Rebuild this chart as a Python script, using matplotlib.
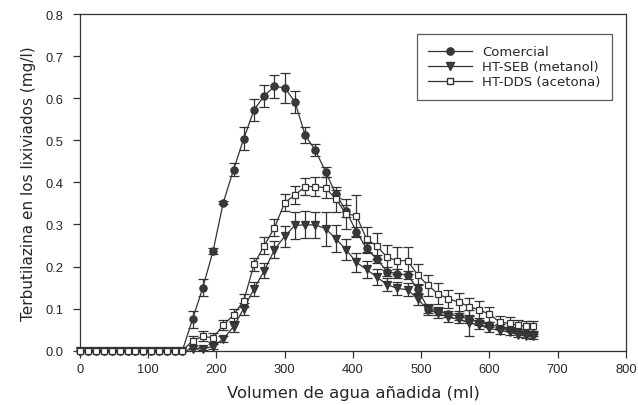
import matplotlib
matplotlib.use("Agg")
import matplotlib.pyplot as plt
from matplotlib.lines import Line2D

# ---------------- data ----------------
volumen = [0, 12, 24, 35, 47, 58, 70, 81, 93, 104, 116, 127, 139, 150,
           165, 180, 195, 210, 225, 240, 255, 270, 285, 300, 315, 330, 345,
           360, 375, 390, 405, 420, 435, 450, 465, 480, 495, 510, 525, 540,
           555, 570, 585, 600, 615, 630, 642, 653, 664]

comercial = [0]*14 + [0.075, 0.150, 0.237, 0.352, 0.430, 0.504, 0.572, 0.606,
                      0.628, 0.625, 0.591, 0.512, 0.476, 0.425, 0.372, 0.332,
                      0.283, 0.243, 0.218, 0.188, 0.183, 0.180, 0.147, 0.100,
                      0.094, 0.087, 0.082, 0.075, 0.068, 0.062, 0.057, 0.052,
                      0.046, 0.042, 0.040]
comercial_err = [0]*14 + [0.020, 0.020, 0.008, 0.004, 0.016, 0.028, 0.025, 0.026,
                          0.028, 0.036, 0.026, 0.019, 0.014, 0.012, 0.010, 0.015,
                          0.012, 0.012, 0.010, 0.010, 0.010, 0.010, 0.012, 0.010,
                          0.010, 0.008, 0.008, 0.008, 0.006, 0.006, 0.006, 0.005,
                          0.005, 0.005, 0.005]

ht_seb = [0]*14 + [0.003, 0.005, 0.010, 0.028, 0.057, 0.100, 0.147, 0.190,
                   0.240, 0.272, 0.298, 0.299, 0.299, 0.290, 0.266, 0.240,
                   0.210, 0.193, 0.175, 0.157, 0.148, 0.145, 0.123, 0.097,
                   0.089, 0.079, 0.075, 0.066, 0.061, 0.053, 0.048, 0.044,
                   0.038, 0.036, 0.034]
ht_seb_err = [0]*14 + [0.003, 0.004, 0.006, 0.008, 0.012, 0.014, 0.016, 0.018,
                       0.020, 0.025, 0.032, 0.032, 0.030, 0.040, 0.032, 0.025,
                       0.022, 0.020, 0.018, 0.016, 0.015, 0.015, 0.014, 0.012,
                       0.012, 0.010, 0.010, 0.030, 0.010, 0.008, 0.008, 0.007,
                       0.006, 0.006, 0.006]

ht_dds = [0]*14 + [0.024, 0.034, 0.031, 0.061, 0.085, 0.119, 0.205, 0.250,
                   0.292, 0.352, 0.370, 0.390, 0.390, 0.387, 0.360, 0.325,
                   0.321, 0.265, 0.249, 0.222, 0.214, 0.214, 0.180, 0.155,
                   0.135, 0.123, 0.116, 0.105, 0.097, 0.087, 0.068, 0.065,
                   0.060, 0.058, 0.058]
ht_dds_err = [0]*14 + [0.010, 0.012, 0.010, 0.012, 0.015, 0.015, 0.015, 0.020,
                       0.020, 0.020, 0.022, 0.020, 0.022, 0.025, 0.030, 0.035,
                       0.048, 0.030, 0.030, 0.030, 0.032, 0.032, 0.025, 0.025,
                       0.025, 0.022, 0.022, 0.020, 0.020, 0.018, 0.015, 0.015,
                       0.013, 0.012, 0.012]

labels = ["Comercial", "HT-SEB (metanol)", "HT-DDS (acetona)"]
xticks = [0, 100, 200, 300, 400, 500, 600, 700, 800]
yticks = [0.0, 0.1, 0.2, 0.3, 0.4, 0.5, 0.6, 0.7, 0.8]

# ---------------- style ----------------
plt.rcParams['font.family'] = ['Liberation Sans', 'DejaVu Sans']
ink = '#333333'
txt = '#262626'

fig = plt.figure(figsize=(6.38, 4.06), dpi=100)
ax = fig.add_axes([0.1254, 0.1337, 0.8556, 0.8293])

common = dict(color=ink, linewidth=0.9, elinewidth=0.9, capsize=3.8,
              capthick=0.9, ecolor=ink)
series = [
    (comercial, comercial_err, 'o', 5.2, '#3a3a3a', 3),
    (ht_seb, ht_seb_err, 'v', 5.5, '#3a3a3a', 4),
    (ht_dds, ht_dds_err, 's', 4.6, 'white', 5),
]
for yv, ye, mk, ms, fc, zo in series:
    cont = ax.errorbar(volumen, yv, yerr=ye, marker=mk, markersize=ms,
                       markerfacecolor=fc, markeredgecolor=ink,
                       markeredgewidth=0.9, zorder=zo, **common)
    cont.lines[0].set_clip_on(False)

ax.set_xlim(0, 800)
ax.set_ylim(0, 0.8)
ax.set_xticks(xticks)
ax.set_yticks(yticks)
ax.set_yticklabels([f"{v:.1f}" for v in yticks])
ax.tick_params(direction='out', length=5, width=0.9, colors=ink,
               labelsize=9.3, labelcolor=txt)
ax.tick_params(axis='y', pad=7)
ax.tick_params(axis='x', pad=4)
for s in ax.spines.values():
    s.set_linewidth(0.9)
    s.set_color(ink)
    s.set_zorder(2)

ax.set_xlabel("Volumen de agua añadida (ml)", fontsize=11.8, color=txt,
              labelpad=7, family=['DejaVu Sans'])
ax.set_ylabel("Terbutilazina en los lixiviados (mg/l)", fontsize=11,
              color=txt, labelpad=7, family=['DejaVu Sans'])

handles = [
    Line2D([], [], color=ink, lw=0.9, marker='o', markersize=5.2,
           markerfacecolor='#3a3a3a', markeredgecolor=ink),
    Line2D([], [], color=ink, lw=0.9, marker='v', markersize=5.5,
           markerfacecolor='#3a3a3a', markeredgecolor=ink),
    Line2D([], [], color=ink, lw=0.9, marker='s', markersize=4.6,
           markerfacecolor='white', markeredgecolor=ink),
]
leg = ax.legend(handles, labels, loc='upper right', bbox_to_anchor=(0.974, 0.94),
                prop={'family': ['DejaVu Sans'], 'size': 9.5},
                frameon=True, fancybox=False, edgecolor=ink,
                handlelength=3.3, handletextpad=0.8, labelspacing=0.15,
                borderpad=0.85, borderaxespad=0)
leg.get_frame().set_linewidth(0.9)
for t in leg.get_texts():
    t.set_color(txt)

fig.savefig("out.png", dpi=100)
